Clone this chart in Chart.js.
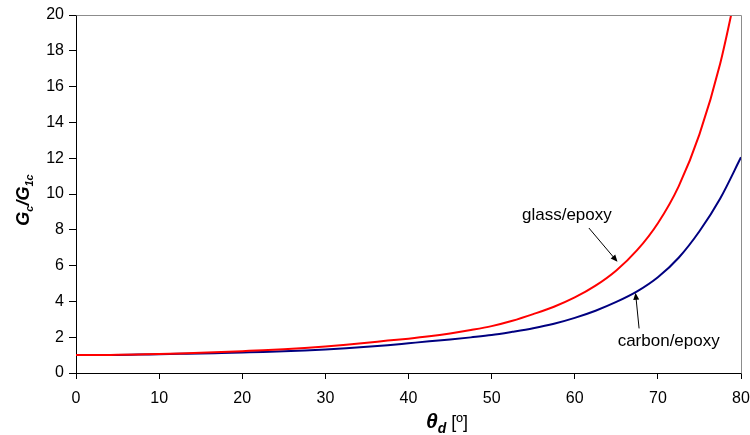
<!DOCTYPE html>
<html>
<head>
<meta charset="utf-8">
<script src="https://cdn.jsdelivr.net/npm/chart.js@4/dist/chart.umd.min.js"></script>
<style>
html,body{margin:0;padding:0;background:#fff;}
#wrap{width:750px;height:435px;}
</style>
</head>
<body>
<div id="wrap"><canvas id="c" width="750" height="435"></canvas></div>
<script>
// Data (angle in degrees, Gc/G1c)
const angles      = [0, 2.5, 5, 7.5, 10, 12.5, 15, 17.5, 20, 22.5, 25, 27.5, 30, 32.5, 35, 37.5, 40, 42.5, 45, 47.5, 50, 52.5, 55, 57.5, 60, 62.5, 65, 67.5, 70, 72.5, 75, 77.5, 80];
const glassEpoxy  = [1.0, 1.0, 1.02, 1.04, 1.06, 1.09, 1.13, 1.17, 1.22, 1.27, 1.33, 1.40, 1.48, 1.58, 1.69, 1.81, 1.92, 2.05, 2.21, 2.40, 2.62, 2.92, 3.29, 3.70, 4.22, 4.88, 5.73, 6.86, 8.37, 10.43, 13.33, 17.29, 22.6];
const carbonEpoxy = [1.0, 1.0, 1.01, 1.03, 1.05, 1.07, 1.09, 1.12, 1.15, 1.18, 1.22, 1.26, 1.31, 1.38, 1.46, 1.55, 1.66, 1.77, 1.87, 1.99, 2.12, 2.30, 2.50, 2.75, 3.08, 3.48, 3.97, 4.56, 5.35, 6.44, 7.92, 9.75, 12.05];
const xTicks = [0, 10, 20, 30, 40, 50, 60, 70, 80];
const yTicks = [0, 2, 4, 6, 8, 10, 12, 14, 16, 18, 20];
const seriesNames = ['glass/epoxy', 'carbon/epoxy'];

// Annotation anchors (data coordinates)
const notes = [
  {text: 'glass/epoxy',  tx: 59.05, ty: 8.81, ax0: 61.7,  ay0: 8.10, ax1: 65.14, ay1: 6.21},
  {text: 'carbon/epoxy', tx: 71.3,  ty: 1.78, ax0: 67.74, ay0: 2.49, ax1: 67.31, ay1: 4.48}
];

const FONT = '"Liberation Sans", Arial, sans-serif';

function toPts(ys){ return angles.map((a,i)=>({x:a, y:ys[i]})); }

const extras = {
  id: 'extras',
  afterDraw(chart){
    const ctx = chart.ctx, ca = chart.chartArea;
    const xs = chart.scales.x, ys = chart.scales.y;
    ctx.save();
    // top & right frame
    ctx.strokeStyle = '#8c8c8c';
    ctx.lineWidth = 1;
    ctx.beginPath();
    ctx.moveTo(Math.round(ca.left)+0.5, Math.round(ca.top)+0.5);
    ctx.lineTo(Math.round(ca.right)+0.5, Math.round(ca.top)+0.5);
    ctx.lineTo(Math.round(ca.right)+0.5, Math.round(ca.bottom)+0.5);
    ctx.stroke();

    // annotations
    ctx.fillStyle = '#000';
    ctx.strokeStyle = '#000';
    ctx.font = '17px ' + FONT;
    ctx.textAlign = 'center';
    ctx.textBaseline = 'middle';
    notes.forEach(n=>{
      ctx.fillText(n.text, xs.getPixelForValue(n.tx), ys.getPixelForValue(n.ty));
      const x0 = xs.getPixelForValue(n.ax0), y0 = ys.getPixelForValue(n.ay0);
      const x1 = xs.getPixelForValue(n.ax1), y1 = ys.getPixelForValue(n.ay1);
      const ang = Math.atan2(y1-y0, x1-x0);
      const hl = 7, hw = 3;
      ctx.lineWidth = 1;
      ctx.beginPath();
      ctx.moveTo(x0,y0);
      ctx.lineTo(x1 - Math.cos(ang)*hl*0.8, y1 - Math.sin(ang)*hl*0.8);
      ctx.stroke();
      ctx.beginPath();
      ctx.moveTo(x1,y1);
      ctx.lineTo(x1 - Math.cos(ang)*hl - Math.sin(ang)*hw, y1 - Math.sin(ang)*hl + Math.cos(ang)*hw);
      ctx.lineTo(x1 - Math.cos(ang)*hl + Math.sin(ang)*hw, y1 - Math.sin(ang)*hl - Math.cos(ang)*hw);
      ctx.closePath();
      ctx.fill();
    });

    function measure(parts){
      let w = 0;
      parts.forEach(p=>{ ctx.font = p[1]; w += ctx.measureText(p[0]).width; });
      return w;
    }
    // Y axis title: G_c/G_1c (rotated)
    const big = 'italic bold 18px ' + FONT;
    const sub = 'italic bold 11px ' + FONT;
    const yParts = [['G', big, 0], ['c', sub, 4], ['/G', big, 0], ['1c', sub, 4]];
    ctx.save();
    ctx.translate(23, 200);
    ctx.rotate(-Math.PI/2);
    ctx.textAlign = 'left';
    ctx.textBaseline = 'alphabetic';
    let w = measure(yParts);
    let cx = -w/2;
    yParts.forEach(p=>{ ctx.font = p[1]; ctx.fillText(p[0], cx, 6 + p[2]); cx += ctx.measureText(p[0]).width; });
    ctx.restore();

    // X axis title: θ_d [º]
    const xParts = [['θ', 'italic bold 21px ' + FONT, 0], ['d', 'italic bold 14px ' + FONT, 5], [' [º]', '18px ' + FONT, 0]];
    ctx.textAlign = 'left';
    ctx.textBaseline = 'alphabetic';
    w = measure(xParts);
    cx = 447 - w/2;
    xParts.forEach(p=>{ ctx.font = p[1]; ctx.fillText(p[0], cx, 428 + p[2]); cx += ctx.measureText(p[0]).width; });
    ctx.restore();
  }
};

new Chart(document.getElementById('c'), {
  type: 'line',
  data: {
    datasets: [
      {label: seriesNames[0], data: toPts(glassEpoxy), borderColor: '#ff0000', borderWidth: 2, pointRadius: 0, cubicInterpolationMode: 'monotone', fill: false},
      {label: seriesNames[1], data: toPts(carbonEpoxy), borderColor: '#000080', borderWidth: 2, pointRadius: 0, cubicInterpolationMode: 'monotone', fill: false}
    ]
  },
  options: {
    responsive: false,
    animation: false,
    devicePixelRatio: 1,
    layout: {padding: {left: 0, right: 0, top: 15, bottom: 0}},
    plugins: {legend: {display: false}, tooltip: {enabled: false}},
    scales: {
      x: {
        type: 'linear', min: 0, max: 80,
        afterBuildTicks: s => { s.ticks = xTicks.map(v=>({value:v})); },
        afterFit: s => { s.height = 62; s.paddingRight = 9; },
        grid: {drawOnChartArea: false, drawTicks: true, tickLength: 6, color: '#000'},
        border: {color: '#000', width: 1},
        ticks: {color: '#000', font: {family: FONT, size: 16}, padding: 10, maxRotation: 0}
      },
      y: {
        min: 0, max: 20,
        afterBuildTicks: s => { s.ticks = yTicks.map(v=>({value:v})); },
        afterFit: s => { s.width = 76; },
        grid: {drawOnChartArea: false, drawTicks: true, tickLength: 7, color: '#000'},
        border: {color: '#000', width: 1},
        ticks: {color: '#000', font: {family: FONT, size: 16}, padding: 5}
      }
    }
  },
  plugins: [extras]
});
</script>
</body>
</html>
